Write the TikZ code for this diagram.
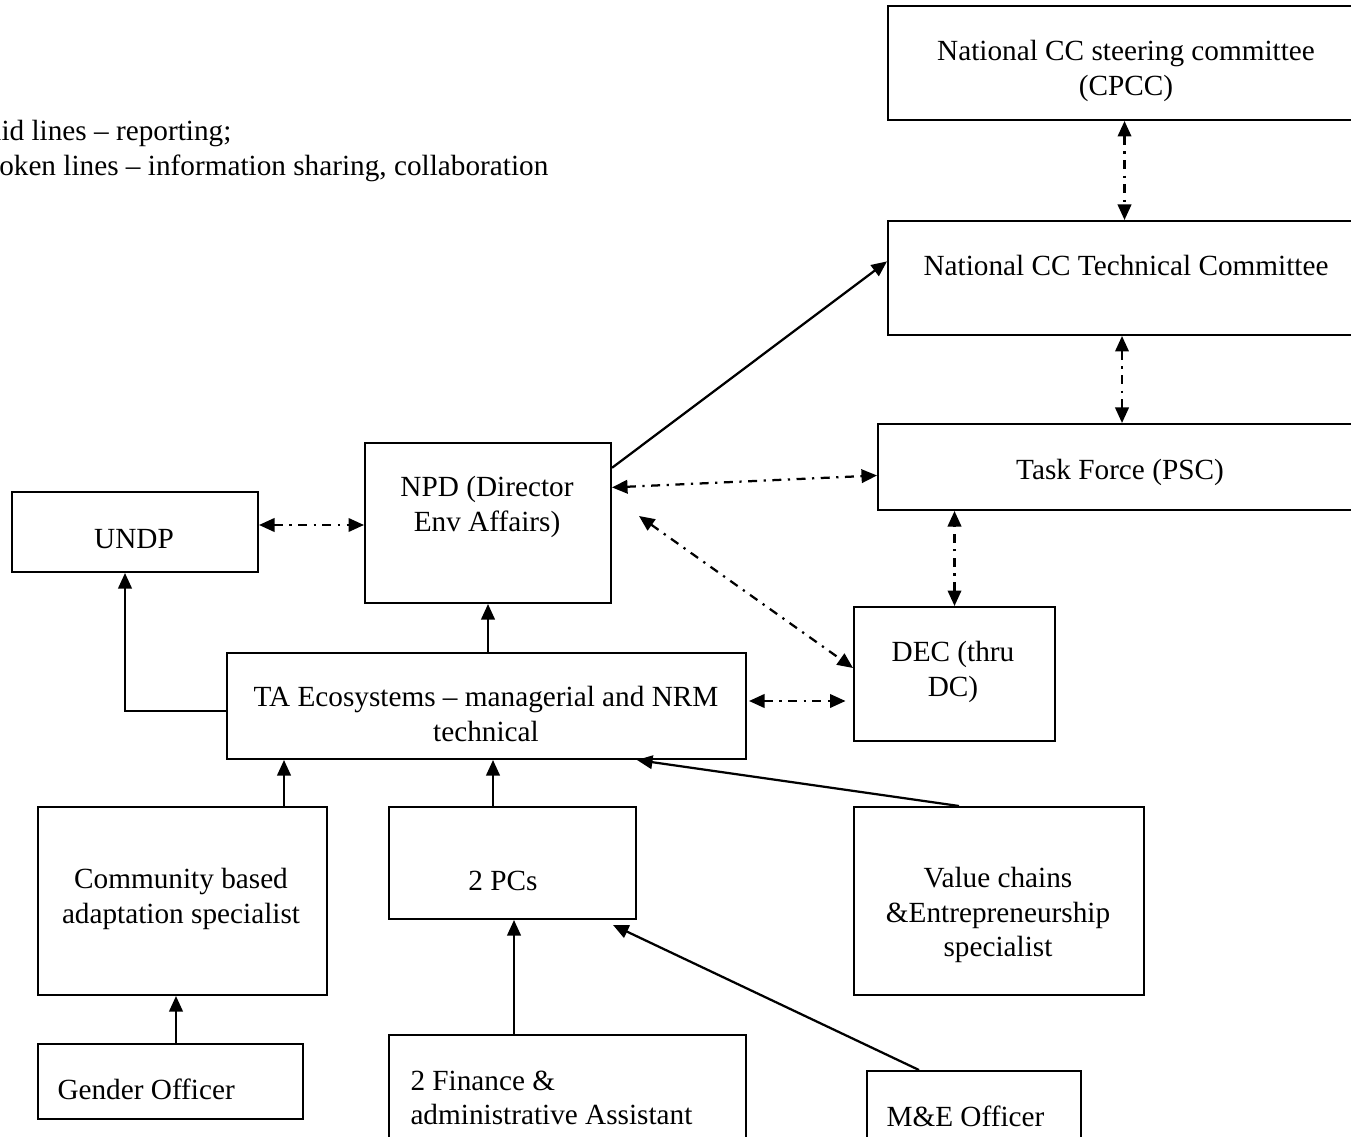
\documentclass[tikz,border=0pt]{standalone}
\usepackage{fontspec}
\setmainfont{Liberation Serif}
\usetikzlibrary{arrows.meta}

\begin{document}
\begin{tikzpicture}[
  x=0.4pt, y=-0.4pt,
  box/.style={draw, line width=0.8pt, anchor=north west, inner sep=0pt},
  txt/.style={align=center, inner sep=0pt, font=\fontsize{11.7pt}{13.8pt}\selectfont},
  ltxt/.style={txt, align=left, anchor=west},
  rep/.style={-{Triangle[length=6.2pt,width=5.4pt]}, line width=0.9pt},
  info/.style={{Triangle[length=6.2pt,width=5.4pt]}-{Triangle[length=6.2pt,width=5.4pt]}, line width=0.9pt, dash pattern=on 3.6pt off 2.6pt on 0.9pt off 2.6pt}
]
\useasboundingbox (0,0) rectangle (1351,1137);
\clip (0,0) rectangle (1351,1137);

% legend
\node[ltxt] (legend) at (-38,151) {Solid lines -- reporting;\\\hspace*{3pt}Broken lines -- information sharing, collaboration};

% boxes
\node[box, minimum width=189.2pt, minimum height=45.6pt] (cpcc) at (887,5) {};
\node[box, minimum width=189.2pt, minimum height=45.6pt] (tech) at (887,220) {};
\node[box, minimum width=193.2pt, minimum height=34.4pt] (psc) at (877,423) {};
\node[box, minimum width=98.4pt, minimum height=64pt] (npd) at (364,442) {};
\node[box, minimum width=98.4pt, minimum height=32pt] (undp) at (11,491) {};
\node[box, minimum width=80.4pt, minimum height=53.6pt] (dec) at (853,606) {};
\node[box, minimum width=207.6pt, minimum height=42.4pt] (ta) at (226,652) {};
\node[box, minimum width=115.6pt, minimum height=75.2pt] (cba) at (37,806) {};
\node[box, minimum width=98.8pt, minimum height=44.8pt] (pcs) at (388,806) {};
\node[box, minimum width=116pt, minimum height=75.2pt] (vcs) at (853,806) {};
\node[box, minimum width=106pt, minimum height=30pt] (gender) at (37,1043) {};
\node[box, minimum width=142.8pt, minimum height=48pt] (fin) at (388,1034) {};
\node[box, minimum width=85.6pt, minimum height=36pt] (me) at (866,1070) {};

% texts
\node[txt] (cpcc-lbl) at (1126,71) {National CC steering committee\\(CPCC)};
\node[txt] (tech-lbl) at (1126,266) {National CC Technical Committee};
\node[txt] (psc-lbl) at (1120,472) {Task Force (PSC)};
\node[txt] (npd-lbl) at (487,507) {NPD (Director\\Env Affairs)};
\node[txt] (undp-lbl) at (134,539) {UNDP};
\node[txt] (dec-lbl) at (953,672) {DEC (thru\\DC)};
\node[txt] (ta-lbl) at (486,714) {TA Ecosystems -- managerial and NRM\\technical};
\node[txt] (cba-lbl) at (181,899) {Community based\\adaptation specialist};
\node[txt] (pcs-lbl) at (503,881) {2 PCs};
\node[txt] (vcs-lbl) at (998,915) {Value chains\\\&Entrepreneurship\\specialist};
\node[ltxt] (gender-lbl) at (57,1089) {Gender Officer};
\node[ltxt] (fin-lbl) at (410,1098) {2 Finance \&\\administrative Assistant};
\node[ltxt] (me-lbl) at (886,1116) {M\&E Officer};

% reporting
\draw[rep] (npd.24) -- (tech.176);
\draw[rep] (ta.north -| npd.south) -- (npd.south);
\draw[rep] ([yshift=-2pt]ta.west) -| ([xshift=-4pt]undp.south);
\draw[rep] ([xshift=40.6pt]cba.north) -- ([xshift=40.6pt]cba.north |- ta.south);
\draw[rep] ([xshift=-7.8pt]pcs.north) -- ([xshift=-7.8pt]pcs.north |- ta.south);
\draw[rep] ([xshift=-16pt]vcs.north) -- ([xshift=60.2pt]ta.south);
\draw[rep] ([xshift=2.2pt]gender.north) -- ([xshift=2.2pt]gender.north |- cba.south);
\draw[rep] ([xshift=-21.4pt]fin.north) -- ([xshift=-21.4pt]fin.north |- pcs.south);
\draw[rep] ([xshift=-22pt]me.north) -- ([xshift=40.2pt,yshift=-2pt]pcs.south);

% information sharing
\draw[info] (cpcc.south) -- (tech.north);
\draw[info] ([xshift=-1pt]tech.south) -- ([xshift=-1pt]tech.south |- psc.north);
\draw[info] (dec.north) -- (dec.north |- psc.south);
\draw[info] (npd.16) -- (psc.182);
\draw[info] ([xshift=10.8pt,yshift=2.8pt]npd.east) -- ([yshift=2.4pt]dec.west);
\draw[info] ([yshift=2.8pt]undp.east) -- ([yshift=2.8pt]undp.east -| npd.west);
\draw[info] ([xshift=0.8pt,yshift=2pt]ta.east) -- ([xshift=-3pt,yshift=2pt]ta.east -| dec.west);
\end{tikzpicture}
\end{document}
